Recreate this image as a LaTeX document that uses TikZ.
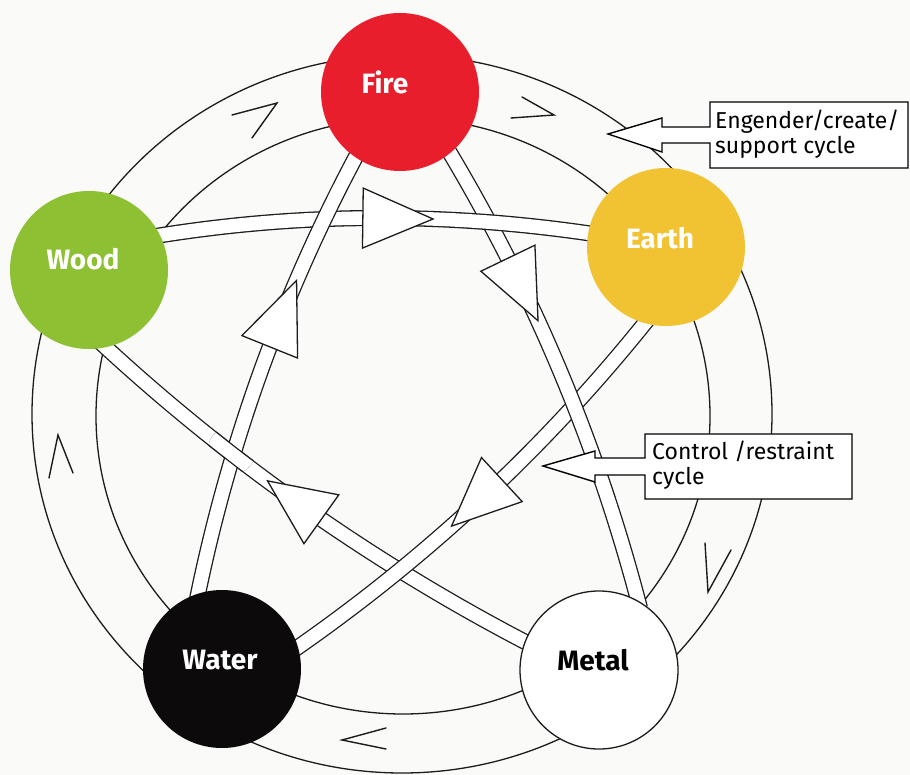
\documentclass[tikz,border=0pt]{standalone}
\usepackage{fontspec}
\setmainfont{Fira Sans}
\usetikzlibrary{calc}
\pgfdeclarelayer{bg}
\pgfsetlayers{bg,main}
\definecolor{fireRed}{RGB}{232,30,45}
\definecolor{earthYellow}{RGB}{241,194,50}
\definecolor{woodGreen}{RGB}{141,192,50}
\definecolor{waterBlack}{RGB}{12,10,10}
\definecolor{inkc}{RGB}{28,28,28}
\definecolor{paper}{RGB}{250,250,248}
\begin{document}
\begin{tikzpicture}[x=1pt,y=-1pt,
  element/.style={circle, minimum size=158pt, inner sep=0pt, outer sep=0pt},
  lbl/.style={font=\fontsize{28}{30}\selectfont\bfseries, inner sep=0pt},
  ring/.style={draw=inkc, line width=1.3pt},
  band/.style={draw=inkc, line width=1.3pt, double=white, double distance=13.5pt},
  headtri/.style={draw=inkc, fill=white, line width=1.3pt, line join=miter},
  chev/.style={draw=inkc, line width=1.4pt, line cap=round, line join=miter},
  callout/.style={draw=black, fill=white, line width=1.4pt, line join=miter},
  boxtext/.style={font=\fontsize{23}{25}\selectfont, align=left, anchor=west, inner sep=0pt}
]
\useasboundingbox (0,0) rectangle (910,775);

% element circles
\node[element, fill=fireRed] (fire) at (400,92) {};
\node[element, fill=earthYellow] (earth) at (666,247) {};
\node[element, fill=woodGreen] (wood) at (89,270) {};
\node[element, fill=waterBlack] (water) at (222,669) {};
\node[element, fill=white, draw=inkc, line width=1.3pt] (metal) at (599,670) {};

\node[lbl, text=white] (firelbl) at (385,82) {Fire};
\node[lbl, text=white] (earthlbl) at (660,238) {Earth};
\node[lbl, text=white] (woodlbl) at (83,259) {Wood};
\node[lbl, text=white] (waterlbl) at (220,660) {Water};
\node[lbl, text=black] (metallbl) at (593,660) {Metal};

% band end points (inside the circles)
\coordinate (we-a) at (150,237);  \coordinate (we-b) at (600,235);
\coordinate (wf-a) at (196,604);  \coordinate (wf-b) at (360,149);
\coordinate (fm-a) at (447,148);  \coordinate (fm-b) at (640,608);
\coordinate (ew-a) at (649,318);  \coordinate (ew-b) at (291,652);
\coordinate (mw-a) at (533,646);  \coordinate (mw-b) at (100,342);

\begin{pgfonlayer}{bg}
\fill[paper] (0,0) rectangle (910,775);
% engender ring
\draw[ring] (402,414) ellipse [x radius=370, y radius=359];
\draw[ring] (403,416) ellipse [x radius=307, y radius=298];
% ring chevrons
\draw[chev] (232,115) -- (277,103) -- (252,138);
\draw[chev] (522,97) -- (554,115) -- (511,118);
\draw[chev] (705,543) -- (708,592) -- (731,550);
\draw[chev] (386,728) -- (342,740) -- (386,749);
\draw[chev] (49,478) -- (58,435) -- (73,473);

% control bands (bottom to top)
\draw[band] (mw-a) .. controls (374.9,564.3) and (230.5,462.9) .. (mw-b)
  coordinate[pos=0.465] (mw-base) coordinate[pos=0.59] (mw-tip);
\draw[headtri] ($(mw-base)!30pt!90:(mw-tip)$) -- (mw-tip) -- ($(mw-base)!30pt!-90:(mw-tip)$) -- cycle;

\draw[band] (ew-a) .. controls (546.1,446.8) and (426.7,558.2) .. (ew-b)
  coordinate[pos=0.445] (ew-base) coordinate[pos=0.585] (ew-tip);
\draw[headtri] ($(ew-base)!30pt!90:(ew-tip)$) -- (ew-tip) -- ($(ew-base)!30pt!-90:(ew-tip)$) -- cycle;

\draw[band] (fm-a) .. controls (533.4,292) and (597.8,445.4) .. (fm-b)
  coordinate[pos=0.251] (fm-base) coordinate[pos=0.39] (fm-tip);
\draw[headtri] ($(fm-base)!30pt!90:(fm-tip)$) -- (fm-tip) -- ($(fm-base)!30pt!-90:(fm-tip)$) -- cycle;

\draw[band] (we-a) .. controls (300,212) and (450,212) .. (we-b)
  coordinate[pos=0.473] (we-base) coordinate[pos=0.629] (we-tip);
\draw[headtri] ($(we-base)!30pt!90:(we-tip)$) -- (we-tip) -- ($(we-base)!30pt!-90:(we-tip)$) -- cycle;

\draw[band] (wf-a) .. controls (228.1,444.2) and (282.7,292.6) .. (wf-b)
  coordinate[pos=0.552] (wf-base) coordinate[pos=0.70] (wf-tip);
\draw[headtri] ($(wf-base)!30pt!90:(wf-tip)$) -- (wf-tip) -- ($(wf-base)!30pt!-90:(wf-tip)$) -- cycle;

% weave: metal-wood band passes over water-fire band
\begin{scope}
\clip (232,450) circle [radius=24];
\draw[band] (mw-a) .. controls (374.9,564.3) and (230.5,462.9) .. (mw-b);
\end{scope}
\end{pgfonlayer}

% callouts
\draw[callout] (710,102) -- (908,102) -- (908,168) -- (710,168) -- (710,143) -- (662,143)
  -- (662,152) -- (608,134) -- (662,118) -- (662,127) -- (710,127) -- cycle;
\node[boxtext] (engtext) at (715,134.5) {Engender/create/\\support cycle};

\draw[callout] (645,434) -- (852,434) -- (852,499) -- (645,499) -- (645,475) -- (595,475)
  -- (595,482) -- (543,466) -- (595,451) -- (595,458) -- (645,458) -- cycle;
\node[boxtext] (ctltext) at (652,465) {Control /restraint\\cycle};
\end{tikzpicture}
\end{document}
